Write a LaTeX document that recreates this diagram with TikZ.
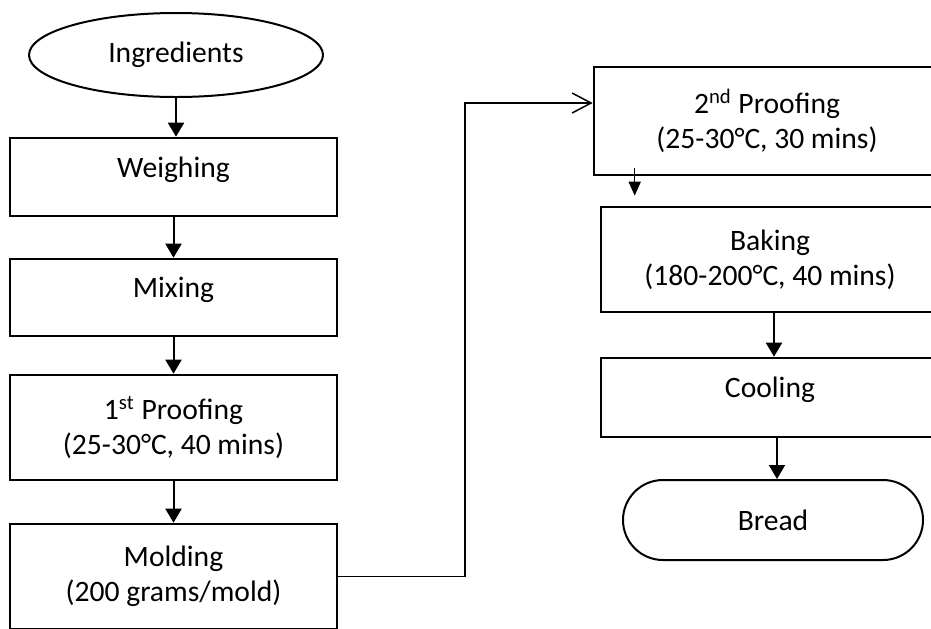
\documentclass[tikz,border=0pt]{standalone}
\usepackage{fontspec}
\setmainfont{Carlito}
\usetikzlibrary{arrows.meta,shapes.geometric,calc}

\begin{document}
\begin{tikzpicture}[x=0.5pt, y=-0.5pt,
    every node/.style={font=\fontsize{14.8}{17.5}\selectfont},
    stage/.style={draw, line width=1.3pt, inner sep=0pt, align=center},
    flow/.style={line width=1pt, -{Triangle[length=7pt, width=8pt]}},
    link/.style={line width=0.75pt, -{Straight Barb[length=9.5pt, width=10pt]}}]
  \useasboundingbox (0,0) rectangle (931,628);
  \clip (0,0) rectangle (931,628);

  % Left column
  \node[draw, line width=1pt, ellipse, minimum width=147pt, minimum height=42pt, inner sep=0pt]
    (ingr) at (176,55) {Ingredients};
  \node[stage, minimum width=163.5pt, minimum height=39pt, text depth=10pt]
    (weigh) at (173.5,177) {Weighing};
  \node[stage, minimum width=163.5pt, minimum height=38.5pt, text depth=10pt]
    (mix) at (173.5,297.5) {Mixing};
  \node[stage, minimum width=163.5pt, minimum height=52.5pt]
    (proof1) at (173.5,427.5) {1\textsuperscript{st} Proofing\\(25-30°C, 40 mins)};
  \node[stage, minimum width=163.5pt, minimum height=52.5pt]
    (mold) at (173.5,576.5) {Molding\\(200 grams/mold)};

  % Right column
  \node[stage, minimum width=173pt, minimum height=54pt]
    (proof2) at (767,121) {2\textsuperscript{nd} Proofing\\(25-30°C, 30 mins)};
  \node[stage, minimum width=169pt, minimum height=52.5pt]
    (bake) at (770,259.5) {Baking\\(180-200°C, 40 mins)};
  \node[stage, minimum width=169pt, minimum height=39.5pt, text depth=10pt]
    (cool) at (770,397.5) {Cooling};
  \node[draw, line width=1pt, rounded corners=20pt, minimum width=150pt, minimum height=40pt, inner sep=0pt]
    (bread) at (773,520) {Bread};

  % Arrows
  \draw[flow] (ingr.south) -- (ingr.south |- weigh.north);
  \draw[flow] (weigh) -- (mix);
  \draw[flow] (mix) -- (proof1);
  \draw[flow] (proof1) -- (mold);

  \coordinate (turn) at (465,103);
  \draw[link] (mold.east) -| (turn) -- (turn -| proof2.west);

  \coordinate (drop) at ($(proof2.south west)+(42,0)$);
  \draw[line width=0.75pt, -{Triangle[length=7pt, width=6pt]}, shorten <=-4pt, shorten >=5pt]
    (drop) -- (drop |- bake.north);
  \draw[flow] ([xshift=2pt]bake.south) -- ([xshift=2pt]cool.north);
  \draw[flow] ([xshift=3.5pt]cool.south) -- ([xshift=3.5pt]cool.south |- bread.north);

\end{tikzpicture}
\end{document}
